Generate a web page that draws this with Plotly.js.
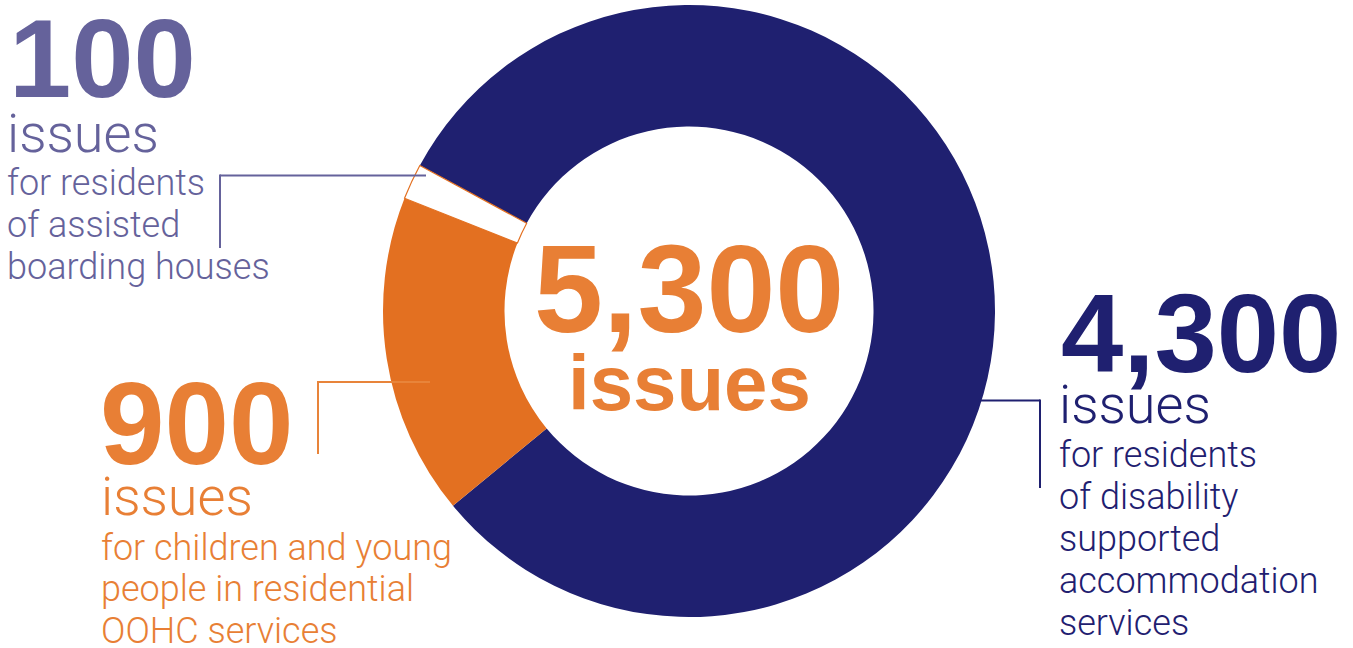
<!DOCTYPE html>
<html>
<head>
<meta charset="utf-8">
<script src="https://cdn.plot.ly/plotly-3.0.1.min.js"></script>
<style>html,body{margin:0;padding:0;background:#fff;}#chart{width:1353px;height:648px;}</style>
</head>
<body>
<div id="chart"></div>
<script>
// ---- data ----
const categories = ['Disability supported accommodation', 'Residential OOHC', 'Assisted boarding houses'];
const values = [4300, 900, 100];
const unitLabel = 'issues';
const descDisability = ['for residents', 'of disability', 'supported', 'accommodation', 'services'];
const descOOHC = ['for children and young', 'people in residential', 'OOHC services'];
const descBoarding = ['for residents', 'of assisted', 'boarding houses'];

// ---- styling ----
const NAVY = '#1f2070';
const ORANGE = '#e37021';
const ORANGE_TXT = '#e87f35';
const PURPLE = '#65629b';
const W = 1353, H = 648;

const fmt = v => v.toLocaleString('en-US');
const total = values.reduce((a, b) => a + b, 0);

const BOLD = 'Liberation Sans, Arial, sans-serif';
const LIGHT = 'Roboto, sans-serif';

const annotations = [];
function txt(text, x, baseline, size, color, bold) {
  annotations.push({
    xref: 'x', yref: 'y', x: x, y: baseline - 0.345 * size,
    xanchor: 'left', yanchor: 'middle', showarrow: false, text: text,
    borderpad: 0,
    font: {family: bold ? BOLD : LIGHT, size: size, color: color, weight: bold ? 700 : 300}
  });
}
function ctxt(text, x, baseline, size, color) {
  annotations.push({
    xref: 'x', yref: 'y', x: x, y: baseline - 0.345 * size,
    xanchor: 'center', yanchor: 'middle', showarrow: false, text: text, borderpad: 0,
    font: {family: BOLD, size: size, color: color, weight: 700}
  });
}

// boarding houses (top-left)
txt(fmt(values[2]), 8, 97, 112, PURPLE, true);
txt(unitLabel, 6, 152, 54, PURPLE, false);
descBoarding.forEach((t, i) => txt(t, 6, 195 + i * 42, 36, PURPLE, false));

// OOHC (bottom-left)
txt(fmt(values[1]), 99, 464, 116, ORANGE_TXT, true);
txt(unitLabel, 100, 515, 54, ORANGE_TXT, false);
descOOHC.forEach((t, i) => txt(t, 100, 560 + i * 41.5, 36, ORANGE_TXT, false));

// disability (right)
txt(fmt(values[0]), 1060, 372, 112, NAVY, true);
txt(unitLabel, 1058, 423, 54, NAVY, false);
descDisability.forEach((t, i) => txt(t, 1058, 467 + i * 42.2, 36, NAVY, false));

// centre total
ctxt(fmt(total), 689, 332, 124, ORANGE_TXT);
ctxt(unitLabel, 689, 410, 78, ORANGE_TXT);

const shapes = [
  {type: 'line', x0: 220, y0: 175.5, x1: 426, y1: 175.5, line: {color: PURPLE, width: 2}},
  {type: 'line', x0: 220, y0: 174.5, x1: 220, y1: 248, line: {color: PURPLE, width: 2}},
  {type: 'line', x0: 318, y0: 382, x1: 430, y1: 382, line: {color: '#e8843a', width: 2}},
  {type: 'line', x0: 318, y0: 381, x1: 318, y1: 454, line: {color: '#e8843a', width: 2}},
  {type: 'line', x0: 978, y0: 400.5, x1: 1040, y1: 400.5, line: {color: NAVY, width: 2}},
  {type: 'line', x0: 1040, y0: 399.5, x1: 1040, y1: 488, line: {color: NAVY, width: 2}}
];

const cx = 689, cy = 311, R = 306;
const data = [
  {type: 'scatter', x: [], y: [], hoverinfo: 'skip', showlegend: false},
  {
    type: 'pie', labels: categories, values: values, sort: false,
    direction: 'clockwise', rotation: -61.6, hole: 0.603,
    textinfo: 'none', hoverinfo: 'none', showlegend: false,
    marker: {colors: [NAVY, ORANGE, '#ffffff'], line: {color: [NAVY, ORANGE, ORANGE], width: [0, 0, 1.2]}},
    domain: {x: [(cx - R) / W, (cx + R) / W], y: [1 - (cy + R) / H, 1 - (cy - R) / H]}
  }
];

const layout = {
  width: W, height: H, margin: {l: 0, r: 0, t: 0, b: 0},
  paper_bgcolor: '#fff', plot_bgcolor: 'rgba(0,0,0,0)', showlegend: false,
  xaxis: {range: [0, W], visible: false, fixedrange: true},
  yaxis: {range: [H, 0], visible: false, fixedrange: true},
  annotations: annotations, shapes: shapes
};

Plotly.newPlot('chart', data, layout, {displayModeBar: false, staticPlot: true});
</script>
</body>
</html>
